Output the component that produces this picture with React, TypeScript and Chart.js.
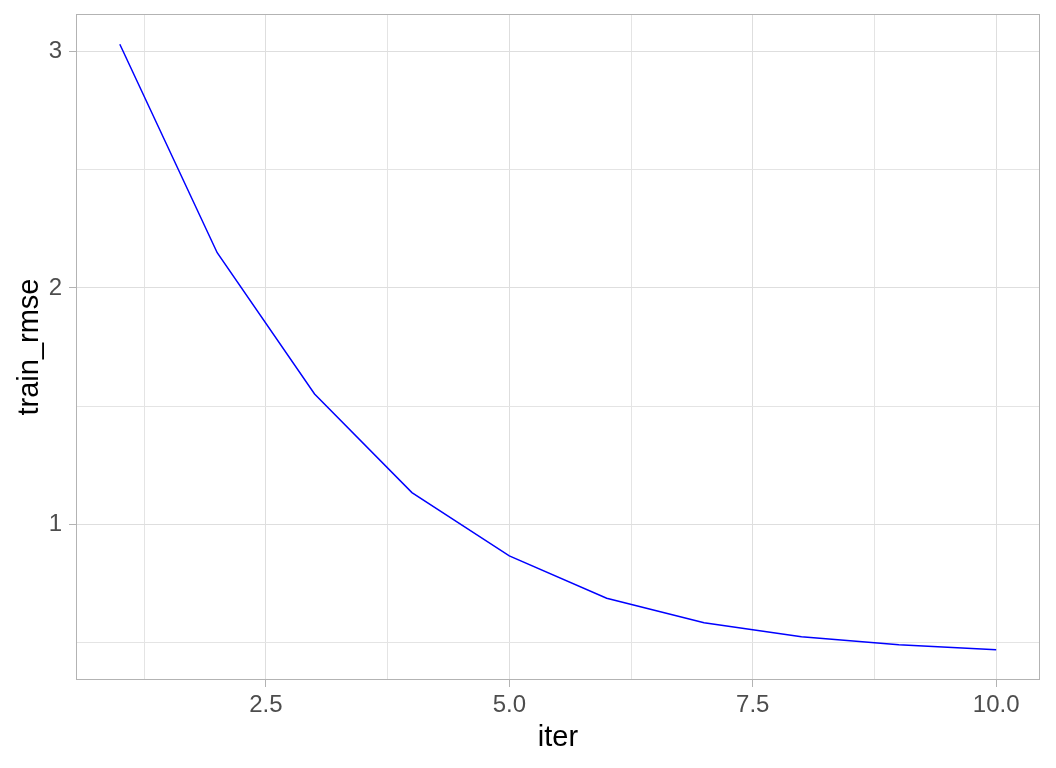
import React, { useEffect, useRef } from "react";
import { Chart, registerables } from "chart.js";

Chart.register(...registerables);

const iterValues: number[] = [1, 2, 3, 4, 5, 6, 7, 8, 9, 10];
const trainRmse: number[] = [3.031, 2.149, 1.551, 1.134, 0.866, 0.687, 0.583, 0.524, 0.49, 0.469];

const xMajorTicks: number[] = [2.5, 5, 7.5, 10];
const xAllTicks: number[] = [1.25, 2.5, 3.75, 5, 6.25, 7.5, 8.75, 10];
const yMajorTicks: number[] = [1, 2, 3];
const yAllTicks: number[] = [0.5, 1, 1.5, 2, 2.5, 3];

const xTitle = "iter";
const yTitle = "train_rmse";

const FONT = "'Liberation Sans', Arial, sans-serif";
const BORDER = "#b3b3b3";
const GRID_MAJOR = "#dedede";
const GRID_MINOR = "#e4e4e4";

function expandRange(vals: number[]): [number, number] {
  const lo = Math.min(...vals);
  const hi = Math.max(...vals);
  const pad = (hi - lo) * 0.05;
  return [lo - pad, hi + pad];
}

const panelBorder = {
  id: "panelBorder",
  afterDatasetsDraw(chart: any) {
    const { ctx, chartArea } = chart;
    ctx.save();
    ctx.strokeStyle = BORDER;
    ctx.lineWidth = 1;
    ctx.strokeRect(
      Math.round(chartArea.left) + 0.5,
      Math.round(chartArea.top) + 0.5,
      Math.round(chartArea.right - chartArea.left) - 1,
      Math.round(chartArea.bottom - chartArea.top) - 1
    );
    ctx.restore();
  },
};

export default function App() {
  const ref = useRef<HTMLCanvasElement | null>(null);

  useEffect(() => {
    if (!ref.current) return;
    const [xMin, xMax] = expandRange(iterValues);
    const [yMin, yMax] = expandRange(trainRmse);
    const isMajorX = (v: number) => xMajorTicks.some((t) => Math.abs(t - v) < 1e-9);
    const isMajorY = (v: number) => yMajorTicks.some((t) => Math.abs(t - v) < 1e-9);

    const chart = new Chart(ref.current, {
      type: "line",
      data: {
        datasets: [
          {
            data: iterValues.map((x, i) => ({ x, y: trainRmse[i] })),
            borderColor: "#0000ff",
            borderWidth: 1.5,
            pointRadius: 0,
            fill: false,
            tension: 0,
          },
        ],
      },
      plugins: [panelBorder],
      options: {
        animation: false,
        responsive: false,
        maintainAspectRatio: false,
        layout: { padding: { top: 14, right: 16, left: 0, bottom: 0 } },
        plugins: {
          legend: { display: false },
          tooltip: { enabled: false },
          title: { display: false },
        },
        scales: {
          x: {
            type: "linear",
            min: xMin,
            max: xMax,
            afterBuildTicks: (scale: any) => {
              scale.ticks = xAllTicks.map((v) => ({ value: v }));
            },
            afterFit: (scale: any) => {
              scale.height = 88;
              scale.paddingLeft = 0;
              scale.paddingRight = 0;
            },
            ticks: {
              autoSkip: false,
              maxRotation: 0,
              padding: 4,
              color: "#4d4d4d",
              font: { family: FONT, size: 24 },
              callback: (v: any) => (isMajorX(Number(v)) ? Number(v).toFixed(1) : ""),
            },
            grid: {
              color: (ctx: any) => (isMajorX(ctx.tick?.value) ? GRID_MAJOR : GRID_MINOR),
              tickColor: (ctx: any) => (isMajorX(ctx.tick?.value) ? BORDER : "rgba(0,0,0,0)"),
              tickLength: 7,
              lineWidth: 1,
            },
            border: { display: false },
            title: {
              display: true,
              text: xTitle,
              color: "#000000",
              font: { family: FONT, size: 29 },
              padding: { top: 0, bottom: 13 },
            },
          },
          y: {
            type: "linear",
            min: yMin,
            max: yMax,
            afterBuildTicks: (scale: any) => {
              scale.ticks = yAllTicks.map((v) => ({ value: v }));
            },
            afterFit: (scale: any) => {
              scale.width = 76;
              scale.paddingTop = 0;
              scale.paddingBottom = 0;
            },
            ticks: {
              autoSkip: false,
              padding: 7,
              color: "#4d4d4d",
              font: { family: FONT, size: 24 },
              callback: (v: any) => (isMajorY(Number(v)) ? String(Number(v)) : ""),
            },
            grid: {
              color: (ctx: any) => (isMajorY(ctx.tick?.value) ? GRID_MAJOR : GRID_MINOR),
              tickColor: (ctx: any) => (isMajorY(ctx.tick?.value) ? BORDER : "rgba(0,0,0,0)"),
              tickLength: 7,
              lineWidth: 1,
            },
            border: { display: false },
            title: {
              display: true,
              text: yTitle,
              color: "#000000",
              font: { family: FONT, size: 29 },
              padding: { top: 13, bottom: 0 },
            },
          },
        },
      },
    } as any);

    return () => chart.destroy();
  }, []);

  return (
    <div style={{ position: "fixed", left: 0, top: 0, width: 1056, height: 768, background: "#ffffff" }}>
      <canvas ref={ref} width={1056} height={768} style={{ display: "block", width: 1056, height: 768 }} />
    </div>
  );
}
